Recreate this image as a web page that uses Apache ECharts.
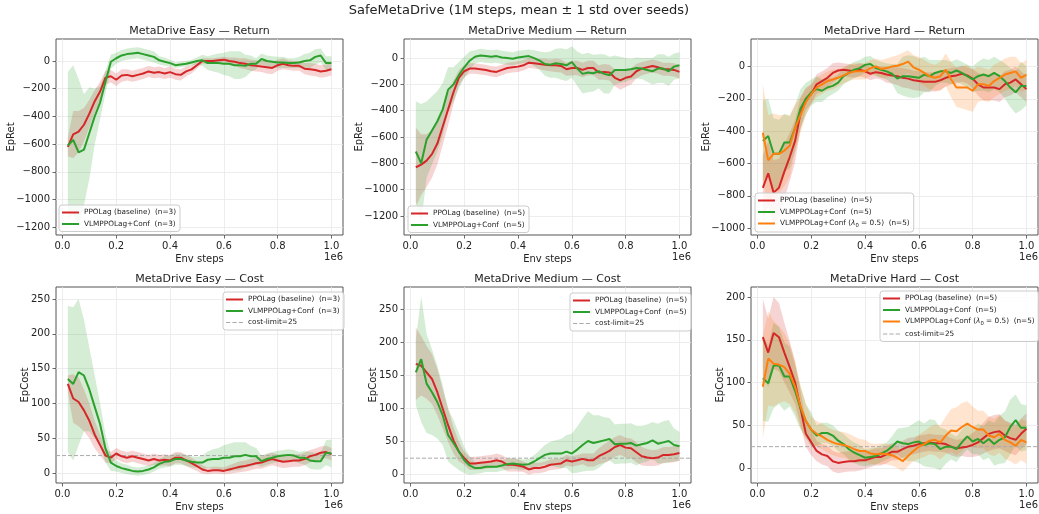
<!DOCTYPE html>
<html>
<head>
<meta charset="utf-8">
<script src="https://cdn.jsdelivr.net/npm/echarts@6/dist/echarts.min.js"></script>
<style>
  html, body { margin: 0; padding: 0; background: #fff; }
  #chart { width: 1039px; height: 514px; }
</style>
</head>
<body>
<div id="chart"></div>
<script>
// ---- data: env steps (x1e6) and per-method mean / std over seeds ----
const STEPS = [0.02,0.04,0.06,0.08,0.10,0.12,0.14,0.16,0.18,0.20,
               0.22,0.24,0.26,0.28,0.30,0.32,0.34,0.36,0.38,0.40,
               0.42,0.44,0.46,0.48,0.50,0.52,0.54,0.56,0.58,0.60,
               0.62,0.64,0.66,0.68,0.70,0.72,0.74,0.76,0.78,0.80,
               0.82,0.84,0.86,0.88,0.90,0.92,0.94,0.96,0.98,1.00];

const X_TICKS = [0, 0.2, 0.4, 0.6, 0.8, 1.0];
const RET_TICKS = [-1200, -1000, -800, -600, -400, -200, 0];
const RET_TICKS_HARD = [-1000, -800, -600, -400, -200, 0];
const COST_TICKS = [0, 50, 100, 150, 200, 250];
const COST_TICKS_HARD = [0, 50, 100, 150, 200];
const COST_LIMIT = 25;

const NAME_PPO_3 = 'PPOLag (baseline)  (n=3)';
const NAME_VLM_3 = 'VLMPPOLag+Conf  (n=3)';
const NAME_PPO_5 = 'PPOLag (baseline)  (n=5)';
const NAME_VLM_5 = 'VLMPPOLag+Conf  (n=5)';
const NAME_VLM_L05 = 'VLMPPOLag+Conf (λ₀ = 0.5)  (n=5)';
const NAME_LIMIT = 'cost-limit=25';

// Easy — return
const easyRetPPO = [-620,-530,-510,-460,-380,-290,-220,-120,-110,-135,-105,-100,-110,-100,-90,-75,-85,-80,-90,-80,-95,-100,-75,-60,-30,0,0,0,5,10,0,-5,-15,-20,-30,-35,-40,-45,-50,-30,-20,-30,-35,-35,-55,-60,-65,-75,-70,-60];
const easyRetPPOStd = [70,170,150,120,100,80,70,50,45,45,45,40,40,40,40,40,40,40,40,40,40,40,35,30,25,20,20,20,20,20,25,30,35,40,40,40,40,45,45,40,40,35,35,35,40,45,45,45,45,45];
const easyRetVLM = [-610,-570,-660,-640,-520,-400,-300,-150,-5,20,40,50,55,60,50,40,30,5,-5,-15,-30,-25,-20,-10,0,5,-15,-15,-15,-20,-20,-30,-30,-35,-20,-20,15,0,-5,-10,-10,-15,-15,-10,0,5,30,40,-15,-15];
const easyRetVLMStd = [530,540,530,400,330,200,120,80,50,40,40,40,40,40,40,40,40,30,30,25,20,20,20,20,25,40,50,60,70,80,90,100,100,80,60,40,40,40,40,40,40,35,35,40,50,55,55,50,50,50];

// Medium — return
const medRetPPO = [-830,-810,-780,-730,-650,-520,-390,-260,-150,-100,-80,-80,-85,-90,-100,-105,-90,-75,-70,-65,-55,-35,-40,-45,-50,-55,-55,-60,-85,-75,-75,-90,-75,-75,-110,-105,-110,-150,-170,-150,-140,-100,-80,-70,-60,-70,-85,-85,-90,-105];
const medRetPPOStd = [300,230,200,180,160,140,120,90,60,45,40,40,40,40,40,40,40,40,40,40,40,40,40,40,45,45,50,50,50,55,55,55,55,55,55,60,60,65,70,70,60,55,50,50,50,50,50,50,50,50];
const medRetVLM = [-710,-800,-620,-550,-480,-390,-240,-200,-130,-70,-20,10,20,15,10,15,5,0,-5,5,10,15,0,-20,-45,-50,-40,-45,-55,-30,-80,-120,-110,-115,-100,-120,-130,-90,-90,-90,-85,-75,-80,-90,-100,-80,-80,-100,-65,-55];
const medRetVLMStd = [380,450,290,260,230,200,170,130,100,80,70,50,50,50,50,50,50,50,50,50,50,50,60,70,90,100,110,120,120,120,130,150,150,140,130,150,140,110,100,90,80,80,80,90,100,110,110,110,100,100];

// Hard — return
const hardRetPPO = [-750,-660,-780,-750,-650,-560,-460,-290,-200,-170,-110,-90,-70,-40,-25,-20,-25,-30,-20,-30,-45,-35,-40,-50,-55,-60,-70,-75,-85,-90,-95,-95,-95,-85,-70,-60,-55,-45,-55,-75,-110,-130,-130,-130,-140,-110,-100,-80,-110,-140];
const hardRetPPOStd = [200,200,200,180,170,150,130,100,70,60,60,60,60,60,50,40,40,40,40,40,40,40,40,50,50,55,60,60,60,60,60,60,60,60,55,50,50,50,50,60,70,80,80,80,80,80,80,80,80,80];
const hardRetVLM = [-460,-430,-540,-540,-470,-470,-380,-260,-200,-160,-140,-150,-130,-120,-100,-60,-40,-20,-10,10,15,-10,-20,-30,-45,-75,-60,-60,-65,-70,-50,-60,-40,-30,-30,-40,-25,-40,-60,-80,-60,-50,-60,-40,-60,-90,-130,-160,-120,-120];
const hardRetVLMStd = [250,230,220,210,180,160,140,120,100,80,80,70,60,50,50,50,50,50,50,50,50,50,50,50,60,90,120,130,130,120,110,100,80,70,70,70,70,70,70,80,90,100,100,100,100,110,120,130,150,120];
const hardRetVLM05 = [-410,-580,-540,-540,-520,-490,-380,-300,-220,-170,-130,-110,-90,-80,-70,-55,-40,-30,-30,-30,-10,0,-15,-10,0,5,15,30,-5,-20,-40,-60,-70,-60,-20,-80,-130,-130,-130,-150,-110,-110,-120,-90,-70,-50,-40,-30,-70,-50];
const hardRetVLM05Std = [300,280,250,240,220,190,150,110,80,60,60,60,60,60,55,50,50,50,50,50,50,50,55,60,60,65,70,70,75,80,80,80,80,90,100,110,120,130,140,130,110,100,100,100,100,100,100,90,90,90];

// Easy — cost
const easyCostPPO = [128,107,102,90,75,55,40,25,22,28,24,22,24,22,20,18,20,18,19,18,22,22,18,14,10,5,3,4,4,3,5,7,9,10,12,14,15,18,20,18,16,17,18,18,20,24,26,29,30,27];
const easyCostPPOStd = [12,35,35,30,25,20,15,10,8,8,8,8,8,8,8,8,8,8,8,8,8,8,8,8,7,6,5,5,5,5,6,7,8,8,8,8,9,9,9,9,9,9,9,9,9,9,9,9,9,9];
const easyCostVLM = [135,128,145,140,120,95,70,35,15,10,7,5,3,2,3,5,8,13,16,17,20,20,18,16,15,15,19,20,20,22,22,24,24,26,24,24,17,20,22,24,25,26,25,22,22,18,17,17,29,28];
const easyCostVLMStd = [105,110,105,80,60,45,30,20,12,8,7,7,6,6,6,6,6,7,8,8,8,8,8,8,8,10,12,14,16,18,20,20,20,18,15,12,8,8,8,8,8,8,8,8,10,12,12,12,18,20];

// Medium — cost
const medCostPPO = [168,165,155,145,125,100,75,52,35,25,17,17,18,19,20,22,20,15,15,14,12,8,10,10,12,15,16,17,22,20,22,24,22,22,28,32,36,42,45,41,40,34,28,26,25,26,30,30,31,33];
const medCostPPOStd = [55,45,40,38,35,30,25,20,15,10,10,10,10,10,10,10,10,10,10,9,8,8,8,8,8,8,8,8,8,8,8,8,10,10,12,14,15,15,15,15,15,15,14,13,12,12,12,12,12,12];
const medCostVLM = [155,175,138,125,110,90,60,48,35,22,14,10,10,12,12,12,14,16,17,16,15,16,20,25,30,32,32,32,35,32,38,45,51,48,50,52,54,46,47,47,48,44,46,48,52,47,49,51,45,43];
const medCostVLMStd = [50,95,75,65,55,45,40,35,28,20,14,9,8,8,8,8,8,8,8,8,8,8,10,12,15,18,20,22,25,30,35,40,45,42,40,35,32,30,30,30,30,30,28,28,28,30,32,32,25,22];

// Hard — cost
const hardCostPPO = [153,135,158,153,135,118,100,70,40,30,20,16,14,8,6,7,8,8,9,9,11,13,13,16,19,19,22,25,26,28,29,30,29,29,28,25,23,24,25,27,30,35,40,42,43,38,35,33,40,46];
const hardCostPPOStd = [45,40,42,40,35,30,25,20,15,15,12,12,12,12,12,12,12,12,12,10,10,10,10,10,10,10,10,10,10,10,10,10,10,10,10,10,10,10,12,14,16,18,20,20,20,18,18,18,18,18];
const hardCostVLM = [105,99,120,120,107,107,90,70,55,45,38,41,41,38,32,28,22,18,15,12,13,14,17,20,25,31,29,28,30,31,27,29,28,22,25,25,22,30,37,31,34,29,34,28,33,36,48,56,47,47];
const hardCostVLMStd = [50,45,50,45,40,35,30,25,20,20,12,12,12,12,12,12,12,12,12,10,10,10,10,10,12,15,18,20,22,25,25,28,28,25,20,15,15,15,15,15,18,20,22,25,28,30,32,30,28,26];
const hardCostVLM05 = [95,128,122,121,118,110,95,72,55,45,40,37,33,30,28,27,25,22,20,20,17,16,17,16,15,12,8,14,20,25,28,32,33,30,38,44,43,48,52,48,45,45,38,36,40,33,30,26,33,30];
const hardCostVLM05Std = [60,55,50,45,40,35,30,25,20,15,15,15,15,15,15,15,15,15,14,13,12,12,12,12,12,12,12,12,12,14,15,16,18,20,22,25,28,28,26,24,22,22,22,22,22,22,22,22,24,25];

// ---- styling ----
const FONT = 'DejaVu Sans';
const RED = '#d62728', GREEN = '#2ca02c', ORANGE = '#ff7f0e';
const BAND = { [RED]: 'rgba(214,39,40,0.2)', [GREEN]: 'rgba(44,160,44,0.2)', [ORANGE]: 'rgba(255,127,14,0.2)' };
const X_MIN = -0.024, X_MAX = 1.043;
const ICON_SOLID = 'path://M0,0H17V2H0Z';
const ICON_DASHED = 'path://M0,0H4V1H0Z M6,0H10V1H6Z M12,0H16V1H12Z';

const GRID_W = 287, GRID_H = 196;
const COLS = [56, 404, 751];
const ROWS = [39, 287];

const panels = [
  { title: 'MetaDrive Easy — Return', ylabel: 'EpRet', col: 0, row: 0, yMin: -1256, yMax: 159, yTicks: RET_TICKS,
    runs: [[NAME_PPO_3, easyRetPPO, easyRetPPOStd, RED], [NAME_VLM_3, easyRetVLM, easyRetVLMStd, GREEN]],
    legend: { left: 59, top: 205 } },
  { title: 'MetaDrive Medium — Return', ylabel: 'EpRet', col: 1, row: 0, yMin: -1345, yMax: 145, yTicks: RET_TICKS,
    runs: [[NAME_PPO_5, medRetPPO, medRetPPOStd, RED], [NAME_VLM_5, medRetVLM, medRetVLMStd, GREEN]],
    legend: { left: 408, top: 206 } },
  { title: 'MetaDrive Hard — Return', ylabel: 'EpRet', col: 2, row: 0, yMin: -1042, yMax: 170, yTicks: RET_TICKS_HARD,
    runs: [[NAME_PPO_5, hardRetPPO, hardRetPPOStd, RED], [NAME_VLM_5, hardRetVLM, hardRetVLMStd, GREEN],
           [NAME_VLM_L05, hardRetVLM05, hardRetVLM05Std, ORANGE]],
    legend: { left: 755, top: 193 } },
  { title: 'MetaDrive Easy — Cost', ylabel: 'EpCost', col: 0, row: 1, yMin: -14.4, yMax: 267.2, yTicks: COST_TICKS, limit: true,
    runs: [[NAME_PPO_3, easyCostPPO, easyCostPPOStd, RED], [NAME_VLM_3, easyCostVLM, easyCostVLMStd, GREEN]],
    legend: { left: 223, top: 292 } },
  { title: 'MetaDrive Medium — Cost', ylabel: 'EpCost', col: 1, row: 1, yMin: -12.6, yMax: 284.4, yTicks: COST_TICKS, limit: true,
    runs: [[NAME_PPO_5, medCostPPO, medCostPPOStd, RED], [NAME_VLM_5, medCostVLM, medCostVLMStd, GREEN]],
    legend: { left: 570, top: 293 } },
  { title: 'MetaDrive Hard — Cost', ylabel: 'EpCost', col: 2, row: 1, yMin: -17.5, yMax: 211.7, yTicks: COST_TICKS_HARD, limit: true,
    runs: [[NAME_PPO_5, hardCostPPO, hardCostPPOStd, RED], [NAME_VLM_5, hardCostVLM, hardCostVLMStd, GREEN],
           [NAME_VLM_L05, hardCostVLM05, hardCostVLM05Std, ORANGE]],
    legend: { left: 880, top: 291 } }
];

const fmtY = v => (v < 0 ? '\u2212' + Math.abs(v) : String(v));
const fmtX = v => v.toFixed(1);

// mean ± std band as one filled polygon, placed through the axis scales
function bandSeries(gridIdx, mean, std, fill) {
  return {
    type: 'custom', xAxisIndex: gridIdx, yAxisIndex: gridIdx, silent: true, z: 1,
    data: mean.map((m, j) => [STEPS[j], m - std[j], m + std[j]]),
    encode: { x: 0, y: [1, 2] },
    renderItem: (params, api) => {
      if (params.dataIndex !== 0) return null;
      const upper = [], lower = [];
      for (let j = 0; j < STEPS.length; j++) {
        upper.push(api.coord([STEPS[j], mean[j] + std[j]]));
        lower.push(api.coord([STEPS[j], mean[j] - std[j]]));
      }
      const cs = params.coordSys;
      const pts = echarts.graphic.clipPointsByRect(upper.concat(lower.reverse()),
        { x: cs.x, y: cs.y, width: cs.width, height: cs.height });
      return { type: 'polygon', shape: { points: pts }, style: { fill: fill } };
    }
  };
}

const option = {
  animation: false,
  backgroundColor: '#fff',
  textStyle: { fontFamily: FONT },
  title: [{
    text: 'SafeMetaDrive (1M steps, mean ± 1 std over seeds)',
    left: 519, top: 4, textAlign: 'center', padding: 0,
    textStyle: { fontFamily: FONT, fontSize: 13, fontWeight: 'normal', color: '#222' }
  }],
  grid: [], xAxis: [], yAxis: [], series: [], legend: [], graphic: []
};

panels.forEach((p, i) => {
  const left = COLS[p.col], top = ROWS[p.row];
  option.grid.push({ left, top, width: GRID_W, height: GRID_H, show: true,
    borderColor: '#555', borderWidth: 1, backgroundColor: 'transparent', outerBoundsMode: 'none' });
  option.title.push({ text: p.title, left: left + GRID_W / 2, top: top - 13, textAlign: 'center', padding: 0,
    textStyle: { fontFamily: FONT, fontSize: 11, fontWeight: 'normal', color: '#222' } });
  option.xAxis.push({
    type: 'value', gridIndex: i, min: X_MIN, max: X_MAX,
    axisLine: { show: false, onZero: false },
    axisTick: { show: true, length: 3.5, customValues: X_TICKS, lineStyle: { color: '#444', width: 0.8 } },
    axisLabel: { customValues: X_TICKS, formatter: fmtX, color: '#222', fontSize: 10, fontFamily: FONT, margin: 6 },
    splitLine: { show: true, lineStyle: { color: '#e8e8e8', width: 0.8 } },
    name: 'Env steps', nameLocation: 'middle', nameGap: 19,
    nameTextStyle: { fontFamily: FONT, fontSize: 10, color: '#222' }
  });
  option.yAxis.push({
    type: 'value', gridIndex: i, min: p.yMin, max: p.yMax,
    axisLine: { show: false, onZero: false },
    axisTick: { show: true, length: 3.5, customValues: p.yTicks, lineStyle: { color: '#444', width: 0.8 } },
    axisLabel: { customValues: p.yTicks, formatter: fmtY, color: '#222', fontSize: 10, fontFamily: FONT, margin: 6 },
    splitLine: { show: true, lineStyle: { color: '#e8e8e8', width: 0.8 } },
    name: p.ylabel, nameLocation: 'middle', nameGap: p.row === 0 ? 40 : 26, nameMoveOverlap: false,
    nameTextStyle: { fontFamily: FONT, fontSize: 10, color: '#222' }
  });

  p.runs.forEach(([name, mean, std, color]) => {
    option.series.push(bandSeries(i, mean, std, BAND[color]));
  });
  p.runs.forEach(([name, mean, std, color]) => {
    option.series.push({
      type: 'line', name, xAxisIndex: i, yAxisIndex: i,
      data: mean.map((m, j) => [STEPS[j], m]), symbol: 'none', showSymbol: false,
      lineStyle: { color, width: 2 }, itemStyle: { color }, z: 3
    });
  });
  const legendData = p.runs.map(r => ({ name: r[0], icon: ICON_SOLID }));
  if (p.limit) {
    option.series.push({
      type: 'line', name: NAME_LIMIT, xAxisIndex: i, yAxisIndex: i,
      data: [[X_MIN, COST_LIMIT], [X_MAX, COST_LIMIT]], symbol: 'none', showSymbol: false,
      lineStyle: { color: '#aaaaaa', width: 1, type: [4, 2] }, itemStyle: { color: '#aaaaaa' }, z: 2
    });
    legendData.push({ name: NAME_LIMIT, icon: ICON_DASHED });
  }
  option.legend.push({
    data: legendData, orient: 'vertical', left: p.legend.left, top: p.legend.top,
    selectedMode: false, backgroundColor: 'rgba(255,255,255,0.8)', borderColor: '#cccccc', borderWidth: 1,
    borderRadius: 3, padding: [4, 4, 4, 3], itemWidth: 17, itemHeight: 9, itemGap: 4.5,
    formatter: n => n.replace('λ₀', '{i|λ}{s|0}'),
    textStyle: { fontFamily: FONT, fontSize: 7.3, color: '#222',
      rich: { i: { fontFamily: FONT, fontSize: 7.3, fontStyle: 'italic', color: '#222' },
              s: { fontFamily: FONT, fontSize: 5.3, color: '#222', verticalAlign: 'bottom', padding: [4, 0, 0, 0] } } }
  });
  // scientific offset label of the x axis
  option.graphic.push({
    type: 'text', x: left + GRID_W, y: top + GRID_H + 22,
    style: { text: '1e6', fontFamily: FONT, fontSize: 10, fill: '#222', align: 'right', verticalAlign: 'middle' }
  });
});

const chart = echarts.init(document.getElementById('chart'), null, { renderer: 'canvas' });
chart.setOption(option);
</script>
</body>
</html>
